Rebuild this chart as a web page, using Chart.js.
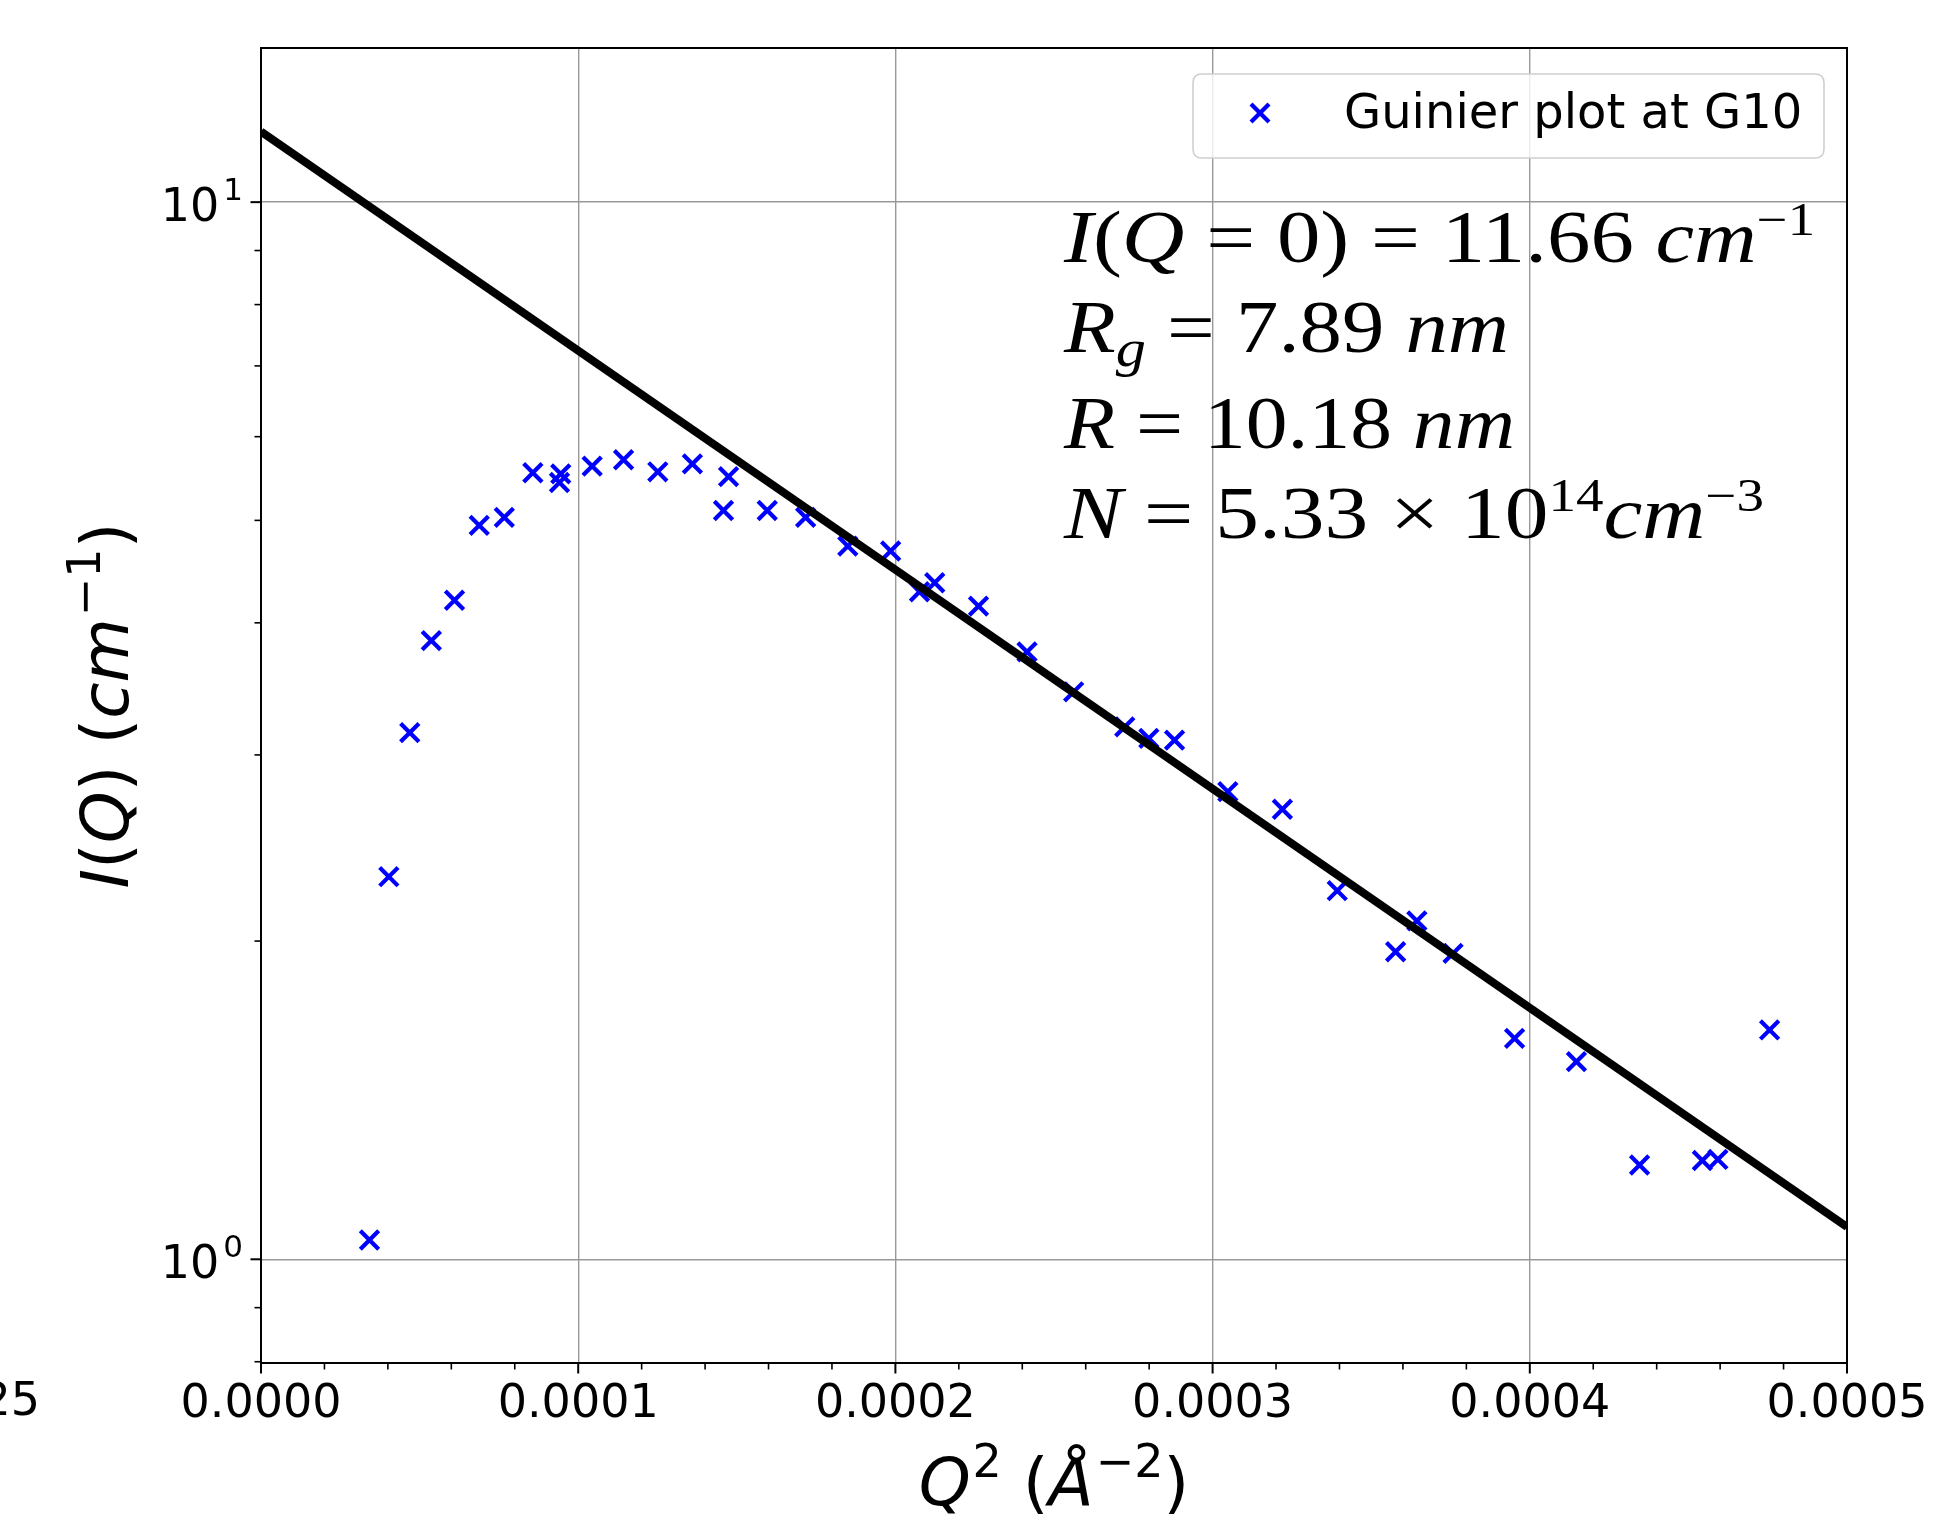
<!DOCTYPE html>
<html><head><meta charset="utf-8">
<script src="https://cdn.jsdelivr.net/npm/chart.js@4.4.1/dist/chart.umd.min.js"></script>
<style>html,body{margin:0;padding:0;background:#fff;overflow:hidden}canvas{display:block}</style>
</head><body>
<canvas id="c" width="1959" height="1518"></canvas>
<script>
// ---------- data ----------
const q2 = [3.42e-5, 4.03e-5, 4.69e-5, 5.37e-5, 6.10e-5, 6.88e-5, 7.67e-5, 8.57e-5, 9.41e-5, 9.45e-5,
            1.044e-4, 1.143e-4, 1.251e-4, 1.360e-4, 1.458e-4, 1.474e-4, 1.596e-4, 1.717e-4, 1.850e-4, 1.985e-4,
            2.076e-4, 2.124e-4, 2.262e-4, 2.415e-4, 2.562e-4, 2.723e-4, 2.799e-4, 2.880e-4, 3.048e-4, 3.220e-4,
            3.393e-4, 3.577e-4, 3.644e-4, 3.758e-4, 3.952e-4, 4.147e-4, 4.346e-4, 4.544e-4, 4.593e-4, 4.756e-4];
const intensity = [1.043, 2.301, 3.149, 3.848, 4.202, 4.946, 5.033, 5.546, 5.430, 5.533,
                   5.627, 5.706, 5.558, 5.655, 5.109, 5.500, 5.109, 5.033, 4.727, 4.677,
                   4.280, 4.365, 4.148, 3.755, 3.442, 3.189, 3.110, 3.098, 2.769, 2.665,
                   2.232, 1.954, 2.090, 1.947, 1.618, 1.538, 1.228, 1.240, 1.243, 1.648];
const fitQ2 = [0, 0.0005];
const fitIntensity = [11.66, 1.073];
const seriesLabel = 'Guinier plot at G10';

const xTickValues = [0, 0.0001, 0.0002, 0.0003, 0.0004, 0.0005];
const xTickLabels = ['0.0000', '0.0001', '0.0002', '0.0003', '0.0004', '0.0005'];
const xMinorTicks = [0.00002, 0.00004, 0.00006, 0.00008, 0.00012, 0.00014, 0.00016, 0.00018,
                     0.00022, 0.00024, 0.00026, 0.00028, 0.00032, 0.00034, 0.00036, 0.00038,
                     0.00042, 0.00044, 0.00046, 0.00048];
const yTickValues = [1, 10];
const yTickExponents = ['0', '1'];
const yMinorTicks = [0.8, 0.9, 2, 3, 4, 5, 6, 7, 8, 9];
const annotationLines = [
  [['I','it'],['(','up'],['Q','it'],[' = ','up'],['0','up'],[')','up'],[' = ','up'],['11.66','up'],[' ','up'],['cm','it'],['\u22121','sup']],
  [['R','it'],['g','sub'],[' = ','up'],['7.89','up'],[' ','up'],['nm','it']],
  [['R','it'],[' = ','up'],['10.18','up'],[' ','up'],['nm','it']],
  [['N','it'],[' = ','up'],['5.33','up'],[' \u00d7 ','up'],['10','up'],['14','sup'],['cm','it'],['\u22123','sup']]
];

// ---------- styling ----------
const SANS = '"DejaVu Sans", sans-serif';
const SERIF = '"Liberation Serif", serif';

function drawRich(ctx, segs, x, y) {
  let cx = x;
  for (const s of segs) { ctx.font = s.font; ctx.fillText(s.t, cx, y + (s.dy || 0)); cx += ctx.measureText(s.t).width + (s.gap || 0); }
}
function richWidth(ctx, segs) {
  let w = 0;
  for (const s of segs) { ctx.font = s.font; w += ctx.measureText(s.t).width + (s.gap || 0); }
  return w;
}
function seg(ctx, x1, y1, x2, y2) { ctx.beginPath(); ctx.moveTo(x1, y1); ctx.lineTo(x2, y2); ctx.stroke(); }

const bgPlugin = {
  id: 'bg',
  beforeDraw(chart) { const c = chart.ctx; c.save(); c.fillStyle = '#fff'; c.fillRect(0, 0, chart.width, chart.height); c.restore(); }
};

const decorPlugin = {
  id: 'decor',
  afterDraw(chart) {
    const ctx = chart.ctx, a = chart.chartArea, xs = chart.scales.x, ys = chart.scales.y;
    ctx.save();
    ctx.strokeStyle = '#000'; ctx.fillStyle = '#000'; ctx.lineCap = 'butt';
    // tick marks
    ctx.lineWidth = 2;
    xTickValues.forEach(v => { const p = xs.getPixelForValue(v); seg(ctx, p, a.bottom, p, a.bottom + 10.5); });
    yTickValues.forEach(v => { const p = ys.getPixelForValue(v); seg(ctx, a.left - 10.5, p, a.left, p); });
    ctx.lineWidth = 1.6;
    xMinorTicks.forEach(v => { const p = xs.getPixelForValue(v); seg(ctx, p, a.bottom, p, a.bottom + 6.5); });
    yMinorTicks.forEach(v => { const p = ys.getPixelForValue(v); seg(ctx, a.left - 6.5, p, a.left, p); });
    // spines
    ctx.lineWidth = 2;
    ctx.strokeRect(a.left, a.top, a.right - a.left, a.bottom - a.top);

    // x tick labels
    ctx.font = '46px ' + SANS; ctx.textAlign = 'center'; ctx.textBaseline = 'alphabetic';
    xTickValues.forEach((v, i) => ctx.fillText(xTickLabels[i], xs.getPixelForValue(v), a.bottom + 53.7));
    // stray label fragment at far left of tick row
    ctx.textAlign = 'right';
    ctx.fillText('25', 40, a.bottom + 52);

    // y tick labels (10^n)
    ctx.textAlign = 'left';
    yTickValues.forEach((v, i) => {
      const p = ys.getPixelForValue(v);
      const segs = [{t: '10', font: '46px ' + SANS, gap: 4}, {t: yTickExponents[i], font: '31px ' + SANS, dy: -21.5}];
      const w = richWidth(ctx, segs);
      drawRich(ctx, segs, 243 - w, p + 19);
    });

    // x axis label
    {
      const it = 'italic 66px ' + SANS, up = '66px ' + SANS, sp = '46px ' + SANS;
      const segs = [{t:'Q', font: it, gap: 2}, {t:'2', font: sp, dy: -28}, {t:' ', font: up}, {t:'(', font: up},
                    {t:'\u00c5', font: it, gap: 2}, {t:'\u22122', font: sp, dy: -28}, {t:')', font: up}];
      const w = richWidth(ctx, segs);
      drawRich(ctx, segs, (a.left + a.right) / 2 - w / 2, 1505);
    }
    // y axis label
    {
      const it = 'italic 66px ' + SANS, up = '66px ' + SANS, sp = '46px ' + SANS;
      const segs = [{t:'I', font: it}, {t:'(', font: up}, {t:'Q', font: it}, {t:')', font: up}, {t:' ', font: up},
                    {t:'(', font: up}, {t:'cm', font: it, gap: 2}, {t:'\u22121', font: sp, dy: -28}, {t:')', font: up}];
      const w = richWidth(ctx, segs);
      ctx.save();
      ctx.translate(128, (a.top + a.bottom) / 2);
      ctx.rotate(-Math.PI / 2);
      drawRich(ctx, segs, -w / 2, 0);
      ctx.restore();
    }

    // legend
    {
      const lx = 1193, ly = 74, lw = 631, lh = 84, r = 9;
      ctx.beginPath();
      ctx.moveTo(lx + r, ly); ctx.lineTo(lx + lw - r, ly); ctx.quadraticCurveTo(lx + lw, ly, lx + lw, ly + r);
      ctx.lineTo(lx + lw, ly + lh - r); ctx.quadraticCurveTo(lx + lw, ly + lh, lx + lw - r, ly + lh);
      ctx.lineTo(lx + r, ly + lh); ctx.quadraticCurveTo(lx, ly + lh, lx, ly + lh - r);
      ctx.lineTo(lx, ly + r); ctx.quadraticCurveTo(lx, ly, lx + r, ly); ctx.closePath();
      ctx.fillStyle = 'rgba(255,255,255,0.8)'; ctx.fill();
      ctx.strokeStyle = '#d0d0d0'; ctx.lineWidth = 1.6; ctx.stroke();
      const mx = 1260, my = 113, d = 9;
      ctx.strokeStyle = '#0000ff'; ctx.lineWidth = 4.2;
      seg(ctx, mx - d, my - d, mx + d, my + d); seg(ctx, mx - d, my + d, mx + d, my - d);
      ctx.fillStyle = '#000'; ctx.font = '48px ' + SANS; ctx.textAlign = 'left';
      ctx.fillText(chart.data.datasets[1].label, 1344, 128);
    }

    // annotation block
    {
      const fonts = {
        it: {font: 'italic 73px ' + SERIF, dy: 0},
        up: {font: '73px ' + SERIF, dy: 0},
        sup: {font: '46px ' + SERIF, dy: -27},
        sub: {font: 'italic 52px ' + SERIF, dy: 14}
      };
      const baselines = [262, 352, 448, 538];
      const targets = [751, 445, 451, 700];
      ctx.fillStyle = '#000'; ctx.textAlign = 'left';
      annotationLines.forEach((line, i) => {
        const segs = line.map(([t, k]) => ({t, font: fonts[k].font, dy: fonts[k].dy}));
        const w = richWidth(ctx, segs);
        const sx = targets[i] / w;
        ctx.save();
        ctx.translate(1064, baselines[i]);
        ctx.scale(sx, 1);
        drawRich(ctx, segs, 0, 0);
        ctx.restore();
      });
    }
    ctx.restore();
  }
};

const ctx = document.getElementById('c').getContext('2d');
new Chart(ctx, {
  type: 'scatter',
  data: {
    datasets: [
      { label: 'Guinier fit', data: fitQ2.map((x, i) => ({x, y: fitIntensity[i]})), showLine: true,
        borderColor: '#000', backgroundColor: '#000', borderWidth: 8, pointRadius: 0, pointHoverRadius: 0,
        tension: 0, fill: false, order: 0, clip: 0 },
      { label: seriesLabel, data: q2.map((x, i) => ({x, y: intensity[i]})), showLine: false,
        pointStyle: 'crossRot', pointRadius: 13, pointHoverRadius: 13, pointBorderWidth: 4.2,
        borderColor: '#0000ff', backgroundColor: '#0000ff', pointBorderColor: '#0000ff', order: 1 }
    ]
  },
  options: {
    responsive: false, animation: false, devicePixelRatio: 1, events: [],
    layout: { padding: { top: 48, right: 112, left: 0, bottom: 0 } },
    plugins: { legend: { display: false }, tooltip: { enabled: false }, title: { display: false } },
    scales: {
      x: {
        type: 'linear', min: 0, max: 0.0005, bounds: 'data',
        afterBuildTicks: s => { s.ticks = xTickValues.map(v => ({value: v})); },
        afterFit: s => { s.height = 155; },
        ticks: { display: false },
        grid: { color: '#999999', lineWidth: 1.4, drawTicks: false },
        border: { display: false }
      },
      y: {
        type: 'logarithmic', min: 0.7978, max: 13.99, bounds: 'data',
        afterBuildTicks: s => { s.ticks = yTickValues.map(v => ({value: v})); },
        afterFit: s => { s.width = 261; },
        ticks: { display: false },
        grid: { color: '#999999', lineWidth: 1.4, drawTicks: false },
        border: { display: false }
      }
    }
  },
  plugins: [bgPlugin, decorPlugin]
});
</script>
</body></html>
